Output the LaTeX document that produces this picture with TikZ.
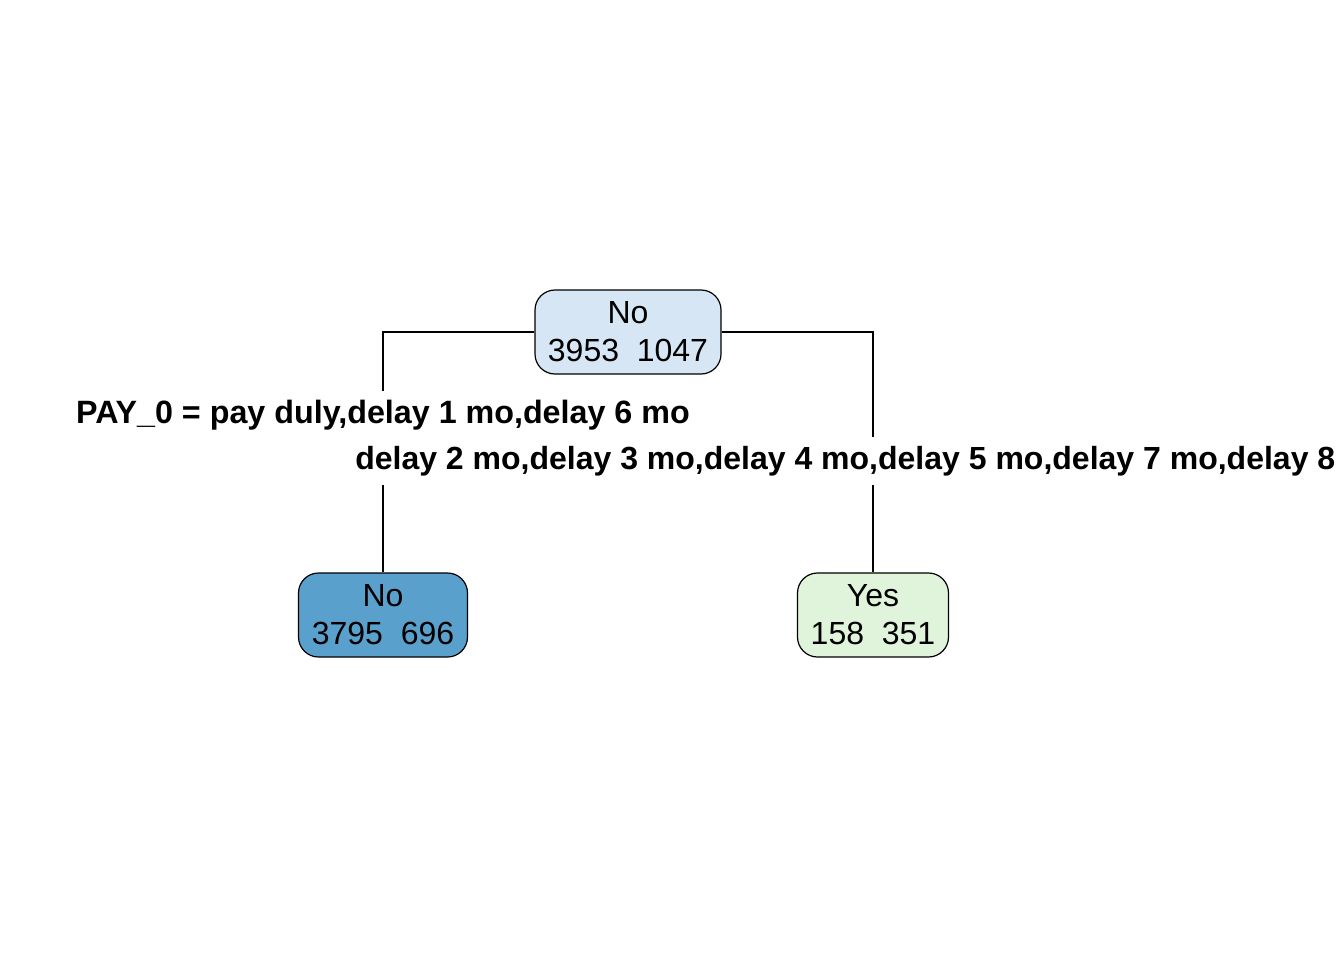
\documentclass[tikz,border=0pt]{standalone}
\usepackage{fontspec}
\setmainfont{Liberation Sans}
\definecolor{rootfill}{RGB}{214,230,244}
\definecolor{leftfill}{RGB}{90,160,204}
\definecolor{rightfill}{RGB}{224,243,219}
\begin{document}
\begin{tikzpicture}[x=0.75pt,y=-0.75pt,
  treebox/.style={draw=black, line width=0.9pt, rounded corners=15pt, align=center,
    font=\fontsize{24}{28.5}\selectfont, inner sep=0pt, minimum height=63pt},
  edgelab/.style={fill=white, font=\bfseries\fontsize{24.2}{28}\selectfont,
    inner xsep=2pt, inner ysep=7pt, text height=17.5pt, text depth=5pt},
  link/.style={draw=black, line width=0.9pt}]
\useasboundingbox (0,0) rectangle (1344,960);
\node[treebox, fill=rootfill, minimum width=139.5pt] (root) at (628,332) {No\\3953~~1047};
\node[treebox, fill=leftfill, minimum width=126.75pt] (lc) at (383,615) {No\\3795~~696};
\node[treebox, fill=rightfill, minimum width=113.25pt] (rc) at (873,615) {Yes\\158~~351};
\draw[link] (root.west) -| (lc.north);
\draw[link] (root.east) -| (rc.north);
\node[edgelab] (lab1) at (383,415) {PAY\_0 = pay duly,delay 1 mo,delay 6 mo};
\node[edgelab, anchor=west, inner xsep=0pt, font=\bfseries\fontsize{24}{28}\selectfont] (lab2) at (355,461) {delay 2 mo,delay 3 mo,delay 4 mo,delay 5 mo,delay 7 mo,delay 8};
\end{tikzpicture}
\end{document}
